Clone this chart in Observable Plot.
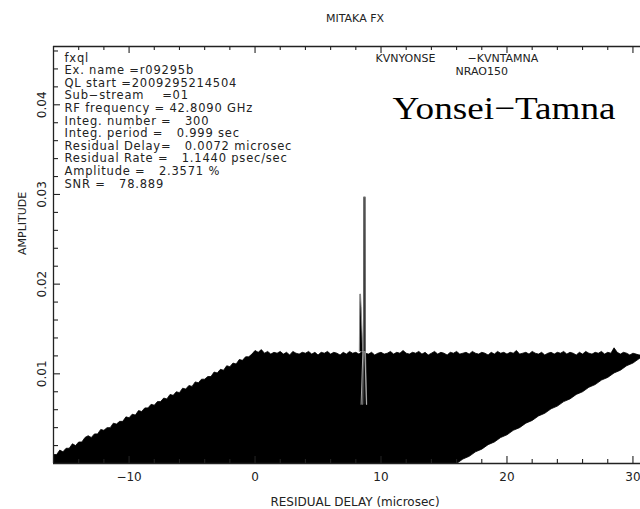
<!DOCTYPE html>
<html><head><meta charset="utf-8">
<script src="https://cdn.jsdelivr.net/npm/d3@7"></script>
<script src="https://cdn.jsdelivr.net/npm/@observablehq/plot@0.6"></script>
<style>html,body{margin:0;padding:0;background:#fff;overflow:hidden}</style>
</head><body><div id="chart"></div>
<script>
const title = "MITAKA FX";
const xLabel = "RESIDUAL DELAY (microsec)";
const yLabel = "AMPLITUDE";
const infoLines = [
  "fxql",
  "Ex. name =r09295b",
  "QL start =2009295214504",
  "Sub\u2212stream    =01",
  "RF frequency = 42.8090 GHz",
  "Integ. number =   300",
  "Integ. period =   0.999 sec",
  "Residual Delay=   0.0072 microsec",
  "Residual Rate =   1.1440 psec/sec",
  "Amplitude =   2.3571 %",
  "SNR =   78.889"
];
const station1 = "KVNYONSE";
const station2 = "\u2212KVNTAMNA";
const sourceName = "NRAO150";
const baselineName = "Yonsei\u2212Tamna";

const xMajor = [-10, 0, 10, 20, 30];
const xMinor = [-14, -12, -8, -6, -4, -2, 2, 4, 6, 8, 12, 14, 16, 18, 22, 24, 26, 28];
const xTickLabels = ["\u221210", "0", "10", "20", "30"];
const yMajor = [0.01, 0.02, 0.03, 0.04];
const yMinor = [0.002, 0.004, 0.006, 0.008, 0.012, 0.014, 0.016, 0.018, 0.022, 0.024, 0.026, 0.028, 0.032, 0.034, 0.036, 0.038, 0.042, 0.044, 0.046];
const yTickLabels = ["0.01", "0.02", "0.03", "0.04"];

// outline of the stacked noise traces: upper edge (left to right)
const edgeTopDelay = [-16,-15.75,-15.5,-15.25,-15,-14.75,-14.5,-14.25,-14,-13.75,-13.5,-13.25,-13,-12.75,-12.5,-12.25,
  -12,-11.75,-11.5,-11.25,-11,-10.75,-10.5,-10.25,-10,-9.75,-9.5,-9.25,-9,-8.75,-8.5,-8.25,
  -8,-7.75,-7.5,-7.25,-7,-6.75,-6.5,-6.25,-6,-5.75,-5.5,-5.25,-5,-4.75,-4.5,-4.25,
  -4,-3.75,-3.5,-3.25,-3,-2.75,-2.5,-2.25,-2,-1.75,-1.5,-1.25,-1,-0.75,-0.5,-0.25,
  0,0.25,0.5,0.75,1,1.25,1.5,1.75,2,2.25,2.5,2.75,3,3.25,3.5,3.75,
  4,4.25,4.5,4.75,5,5.25,5.5,5.75,6,6.25,6.5,6.75,7,7.25,7.5,7.75,
  8,8.25,8.5,8.75,9,9.25,9.5,9.75,10,10.25,10.5,10.75,11,11.25,11.5,11.75,
  12,12.25,12.5,12.75,13,13.25,13.5,13.75,14,14.25,14.5,14.75,15,15.25,15.5,15.75,
  16,16.25,16.5,16.75,17,17.25,17.5,17.75,18,18.25,18.5,18.75,19,19.25,19.5,19.75,
  20,20.25,20.5,20.75,21,21.25,21.5,21.75,22,22.25,22.5,22.75,23,23.25,23.5,23.75,
  24,24.25,24.5,24.75,25,25.25,25.5,25.75,26,26.25,26.5,26.75,27,27.25,27.5,27.75,
  28,28.25,28.5,28.75,29,29.25,29.5,29.75,30,30.25,30.5,30.75,31];
const edgeTopAmp = [.0010,.0010,.0015,.0013,.0017,.0017,.0022,.0020,.0024,.0024,.0029,.0031,.0029,.0033,.0033,.0038,
  .0037,.0040,.0040,.0045,.0044,.0047,.0047,.0052,.0051,.0055,.0054,.0059,.0058,.0062,.0062,.0066,
  .0065,.0069,.0069,.0073,.0072,.0077,.0076,.0080,.0079,.0084,.0083,.0087,.0086,.0091,.0090,.0094,
  .0094,.0097,.0097,.0102,.0101,.0105,.0104,.0109,.0108,.0112,.0111,.0116,.0115,.0119,.0119,.0122,
  .0126,.0124,.0127,.0123,.0125,.0122,.0124,.0123,.0125,.0122,.0124,.0121,.0125,.0123,.0122,.0124,
  .0123,.0125,.0122,.0124,.0121,.0124,.0123,.0125,.0122,.0124,.0123,.0121,.0124,.0122,.0125,.0123,
  .0124,.0122,.0125,.0123,.0122,.0124,.0121,.0123,.0124,.0122,.0123,.0125,.0122,.0124,.0123,.0126,
  .0123,.0122,.0124,.0123,.0125,.0122,.0124,.0121,.0123,.0125,.0122,.0124,.0123,.0121,.0124,.0123,
  .0125,.0122,.0123,.0124,.0122,.0125,.0123,.0122,.0124,.0123,.0121,.0124,.0122,.0125,.0123,.0124,
  .0122,.0124,.0123,.0126,.0122,.0123,.0124,.0122,.0125,.0123,.0122,.0124,.0121,.0123,.0124,.0122,
  .0124,.0123,.0125,.0122,.0124,.0123,.0121,.0124,.0122,.0125,.0123,.0122,.0124,.0123,.0125,.0122,
  .0124,.0123,.0129,.0124,.0122,.0124,.0123,.0121,.0123,.0122,.0121,.0122,.0121];
// lower edge (right to left): baseline of the last traces, then the common zero line
const edgeLowDelay = [31,30.5,30,29.5,29,28.5,28,27.5,27,26.5,26,25.5,25,24.5,24,23.5,23,22.5,22,21.5,21,20.5,20,19.5,19,18.5,18,17.5,17,16.5,16,-16];
const edgeLowAmp = [.0120,.0117,.0112,.0109,.0104,.0101,.0096,.0093,.0088,.0085,.0080,.0077,.0072,.0069,.0064,.0061,.0056,.0053,.0048,.0045,.0040,.0037,.0032,.0029,.0024,.0021,.0016,.0013,.0008,.0005,0,0];

// fringe peak
const spikeMainDelay = [8.54, 8.61, 8.63, 8.74, 8.76, 8.86];
const spikeMainAmp = [0.0066, 0.0125, 0.0297, 0.0297, 0.0125, 0.0066];
const spikeSideDelay = [8.28, 8.32, 8.37, 8.42, 8.55];
const spikeSideAmp = [0.0125, 0.0189, 0.0189, 0.0175, 0.0125];
const spikeInnerLDelay = [8.42, 8.56];
const spikeInnerLAmp = [0.0066, 0.0125];
const spikeInnerRDelay = [8.85, 8.72];
const spikeInnerRAmp = [0.0066, 0.0125];

const outlineDelay = edgeTopDelay.concat(edgeLowDelay);
const outlineAmp = edgeTopAmp.concat(edgeLowAmp);

const W = 640, H = 509, mL = 53, mR = 0, mT = 46, mB = 46;
const PW = W - mL - mR, PH = H - mT - mB;
const ink = "#222";
const font = "DejaVu Sans, Liberation Sans, sans-serif";
const idx = (a) => a.map((_, i) => i);

const infoMarks = infoLines.map((line, k) =>
  Plot.text([line], {frameAnchor: "top-left", textAnchor: "start", lineAnchor: "top", dx: 11, dy: 7 + k * 12.6, fontSize: 11.5, fill: ink, className: "info"})
);

const chart = Plot.plot({
  width: W, height: H,
  marginLeft: mL, marginRight: mR, marginTop: mT, marginBottom: mB,
  style: {fontFamily: font, background: "#fff", color: ink},
  x: {domain: [-16, 30.6], axis: null},
  y: {domain: [0, 0.0465], axis: null},
  marks: [
    Plot.line(idx(outlineDelay), {x: i => outlineDelay[i], y: i => outlineAmp[i], fill: "#000", stroke: "#000", strokeWidth: 0.8, clip: true}),
    Plot.line(idx(spikeSideDelay), {x: i => spikeSideDelay[i], y: i => spikeSideAmp[i], fill: "#000", stroke: "#888", strokeWidth: 1}),
    Plot.line(idx(spikeMainDelay), {x: i => spikeMainDelay[i], y: i => spikeMainAmp[i], fill: "#111", stroke: "#666", strokeWidth: 1.2}),
    Plot.line(idx(spikeInnerLDelay), {x: i => spikeInnerLDelay[i], y: i => spikeInnerLAmp[i], stroke: "#bbb", strokeWidth: 0.9}),
    Plot.line(idx(spikeInnerRDelay), {x: i => spikeInnerRDelay[i], y: i => spikeInnerRAmp[i], stroke: "#bbb", strokeWidth: 0.9}),
    // frame (right side lies beyond the picture)
    Plot.ruleY([0], {stroke: ink, strokeWidth: 1.3}),
    Plot.ruleY([0.0465], {stroke: ink, strokeWidth: 1.3}),
    Plot.ruleX([-16], {stroke: ink, strokeWidth: 1.3}),
    // inward ticks
    Plot.tickX(xMajor, {x: d => d, insetTop: PH - 7, stroke: ink, strokeWidth: 1.1}),
    Plot.tickX(xMinor, {x: d => d, insetTop: PH - 4, stroke: ink, strokeWidth: 1.1}),
    Plot.tickX(xMajor, {x: d => d, insetBottom: PH - 7, stroke: ink, strokeWidth: 1.1}),
    Plot.tickX(xMinor, {x: d => d, insetBottom: PH - 4, stroke: ink, strokeWidth: 1.1}),
    Plot.tickY(yMajor, {y: d => d, insetRight: PW - 7, stroke: ink, strokeWidth: 1.1}),
    Plot.tickY(yMinor, {y: d => d, insetRight: PW - 5, stroke: ink, strokeWidth: 1.1}),
    // tick labels
    Plot.text(idx(xMajor), {x: i => xMajor[i], y: 0, text: i => xTickLabels[i], dy: 14, fontSize: 12, fill: ink}),
    Plot.text(idx(yMajor), {x: -16, y: i => yMajor[i], text: i => yTickLabels[i], dx: -11, rotate: -90, fontSize: 12, fill: ink}),
    // axis labels
    Plot.text([xLabel], {frameAnchor: "bottom", dx: 8, dy: 42, fontSize: 12, fill: ink}),
    Plot.text([yLabel], {frameAnchor: "left", dx: -31, rotate: -90, fontSize: 11, fill: ink}),
    // title
    Plot.text([title], {frameAnchor: "top", dx: 8, dy: -32, fontSize: 11, fill: ink}),
    ...infoMarks,
    Plot.text([station1], {frameAnchor: "top-left", textAnchor: "start", lineAnchor: "top", dx: 322, dy: 8, fontSize: 11, fill: ink}),
    Plot.text([station2], {frameAnchor: "top-left", textAnchor: "start", lineAnchor: "top", dx: 414, dy: 8, fontSize: 11, fill: ink}),
    Plot.text([sourceName], {frameAnchor: "top-left", textAnchor: "start", lineAnchor: "top", dx: 402, dy: 21, fontSize: 11, fill: ink}),
    Plot.text([baselineName], {frameAnchor: "top-left", textAnchor: "start", lineAnchor: "bottom", dx: 339, dy: 72, fontSize: 32, fontFamily: "Liberation Serif, DejaVu Serif, serif", fill: "#000"})
  ]
});
d3.select(chart).selectAll(".info text").attr("letter-spacing", "0.8");
d3.select(chart).selectAll("text").filter(function() { return this.textContent === baselineName; })
  .attr("textLength", 223).attr("lengthAdjust", "spacingAndGlyphs");
document.getElementById("chart").appendChild(chart);
</script></body></html>
